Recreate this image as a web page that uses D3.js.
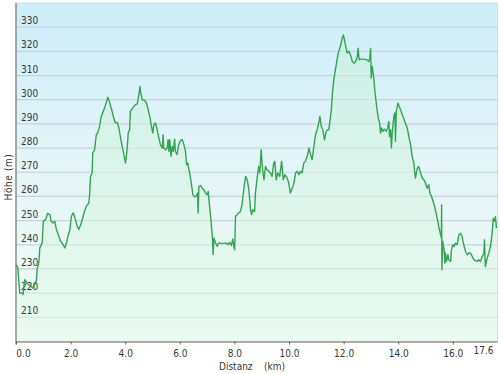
<!DOCTYPE html>
<html>
<head>
<meta charset="utf-8">
<script src="https://cdn.jsdelivr.net/npm/d3@7"></script>
<style>
html,body{margin:0;padding:0;background:#fff;}
svg{display:block;}
text{font-family:"DejaVu Sans Condensed","DejaVu Sans",Verdana,sans-serif;fill:#383838;}
</style>
</head>
<body>
<svg id="chart" width="500" height="374"></svg>
<script>
// distance (km)
const distKm = [0.00,0.07,0.10,0.14,0.23,0.26,0.29,0.32,0.41,0.53,0.63,0.69,0.75,0.78,0.84,0.87,0.96,1.00,1.08,1.16,1.24,1.29,1.36,1.42,1.48,1.57,1.63,1.73,1.79,1.85,1.90,1.97,2.03,2.10,2.18,2.24,2.30,2.39,2.46,2.51,2.58,2.67,2.70,2.73,2.79,2.81,2.88,2.94,3.00,3.06,3.12,3.22,3.30,3.36,3.42,3.50,3.58,3.64,3.71,3.77,3.83,3.89,3.95,4.01,
4.07,4.11,4.16,4.19,4.28,4.38,4.44,4.50,4.54,4.57,4.62,4.72,4.78,4.84,4.90,4.96,5.01,5.05,5.11,5.17,5.23,5.29,5.36,5.39,5.41,5.48,5.54,5.57,5.60,5.63,5.68,5.72,5.76,5.81,5.84,5.90,5.96,6.03,6.09,6.15,6.21,6.25,6.29,6.36,6.42,6.48,6.54,6.60,6.65,6.67,6.70,6.76,6.82,6.88,6.94,7.00,7.04,7.09,7.14,7.19,7.22,7.25,7.31,7.37,7.43,7.55,7.67,7.77,7.82,7.89,7.94,7.98,8.01,8.04,8.10,8.16,
8.22,8.28,8.35,8.41,8.47,8.53,8.59,8.63,8.67,8.74,8.77,8.84,8.89,8.93,8.98,9.02,9.08,9.14,9.20,9.26,9.32,9.38,9.44,9.48,9.53,9.59,9.66,9.73,9.79,9.85,9.93,9.99,10.05,10.12,10.18,10.24,10.30,10.36,10.42,10.48,10.54,10.60,10.67,10.73,10.79,10.85,10.91,10.97,11.03,11.09,11.13,11.18,11.24,11.30,11.36,11.42,11.46,11.49,11.55,11.59,11.64,11.70,11.77,11.82,11.88,11.95,11.99,12.03,12.08,12.13,12.19,12.25,12.32,12.38,12.44,12.50,12.53,12.57,12.62,12.74,12.86,12.92,
12.96,12.99,13.01,13.05,13.11,13.14,13.21,13.27,13.32,13.35,13.39,13.44,13.49,13.56,13.61,13.66,13.68,13.72,13.75,13.78,13.84,13.88,13.90,13.93,13.99,14.06,14.15,14.24,14.33,14.39,14.45,14.51,14.57,14.63,14.70,14.75,14.82,14.88,14.94,15.00,15.06,15.12,15.16,15.22,15.28,15.33,15.39,15.45,15.51,15.58,15.59,15.60,15.63,15.68,15.71,15.73,15.77,15.82,15.85,15.92,15.95,16.00,16.05,16.10,16.16,16.22,16.28,16.34,16.40,16.47,16.53,16.59,16.65,16.71,16.77,16.83,16.89,16.95,17.01,17.08,17.14,17.16,17.19,17.22,17.26,17.32,17.38,17.44,17.48,17.53,17.56,17.60];
// elevation (m)
const elevM = [231.8,230.4,225.6,220.0,220.0,219.4,223.0,225.6,224.0,223.0,222.0,223.5,225.6,230.4,233.0,238.7,240.8,249.7,250.4,253.0,252.5,249.7,249.0,249.7,246.3,243.5,241.5,240.0,238.7,240.8,243.5,246.0,251.8,253.2,250.4,247.7,246.3,249.0,251.8,253.9,256.0,257.3,261.4,268.3,269.7,278.0,279.3,285.5,286.5,289.0,293.0,295.9,298.6,301.0,299.3,296.0,292.4,290.4,290.6,288.3,284.2,280.7,277.3,273.8,
279.3,286.2,287.6,295.2,296.6,298.0,298.3,302.0,305.5,302.8,300.0,299.7,298.6,295.9,293.0,289.0,286.2,289.7,290.4,287.6,284.2,281.4,280.0,285.5,280.0,279.3,280.0,283.5,278.6,283.5,276.6,280.7,278.6,283.7,278.6,277.3,281.4,283.2,283.5,281.4,278.6,273.1,273.8,269.7,265.6,260.7,259.8,260.1,261.4,253.2,264.2,264.5,263.5,262.8,261.4,260.7,262.1,255.9,250.4,243.5,236.0,242.8,240.8,239.4,240.8,240.5,240.8,240.1,241.0,239.7,242.4,239.4,238.0,251.8,252.5,253.2,
253.8,256.6,263.5,268.3,266.9,262.8,254.5,252.5,254.5,253.8,261.4,268.3,272.4,269.7,279.3,272.4,266.9,272.4,271.0,270.4,269.7,268.3,273.8,274.5,266.9,269.7,268.3,274.5,266.9,269.0,267.6,265.5,261.4,263.5,265.5,269.7,270.4,269.0,270.4,269.7,273.8,274.5,276.6,280.0,277.2,275.2,280.7,285.5,287.6,290.3,293.1,289.0,287.6,283.4,286.9,287.6,287.6,290.3,295.8,302.7,308.2,312.4,317.2,320.0,322.0,325.5,326.8,324.8,322.0,319.3,320.0,318.6,315.8,315.1,315.8,317.9,321.3,316.5,316.8,316.8,316.5,315.8,
317.2,321.3,309.0,313.8,308.3,304.1,297.2,292.4,290.3,286.2,288.3,286.9,287.9,286.9,288.3,291.0,284.8,287.6,280.0,286.2,293.1,294.5,282.8,295.2,298.6,296.6,293.8,291.0,288.3,284.8,281.4,276.6,273.8,267.6,271.7,272.4,269.7,267.6,266.9,265.5,263.4,264.8,261.4,260.0,257.9,255.9,253.1,249.7,246.2,242.8,256.6,229.7,241.4,237.9,232.4,236.6,233.1,235.9,233.8,233.1,237.9,240.0,239.3,240.7,240.0,244.1,244.8,243.4,240.0,237.2,235.9,236.6,236.6,235.2,233.8,233.5,233.1,233.8,233.1,235.2,236.6,242.1,231.0,232.4,234.5,236.6,239.3,244.8,251.0,249.7,251.7,246.9];

const yTicks = [210,220,230,240,250,260,270,280,290,300,310,320,330];
const xTicks = [0,2,4,6,8,10,12,14,16];
const xTickLabels = ["0.0","2.0","4.0","6.0","8.0","10.0","12.0","14.0","16.0"];
const xEndLabel = "17.6";
const xTitle = "Distanz    (km)";
const yTitle = "Höhe (m)";

const data = distKm.map((d,i)=>({d:d, e:elevM[i]}));

const L=16, R=496.5, T=3, B=341.5;
const svg = d3.select("#chart");
const x = d3.scaleLinear().domain([0,17.6]).range([L,R]);
const y = d3.scaleLinear().domain([200,340]).range([B,T]);

const defs = svg.append("defs");
const bg = defs.append("linearGradient").attr("id","bg").attr("x1",0).attr("y1",0).attr("x2",0).attr("y2",1);
bg.append("stop").attr("offset","0%").attr("stop-color","#cdedfa");
bg.append("stop").attr("offset","50%").attr("stop-color","#e4f5f8");
bg.append("stop").attr("offset","100%").attr("stop-color","#f1fcf4");
const ag = defs.append("linearGradient").attr("id","ag").attr("x1",0).attr("y1",0).attr("x2",0).attr("y2",1);
ag.append("stop").attr("offset","0%").attr("stop-color","#c8f0d8").attr("stop-opacity",0.55);
ag.append("stop").attr("offset","100%").attr("stop-color","#e2f9ea").attr("stop-opacity",0.5);

svg.append("rect").attr("x",L).attr("y",T).attr("width",R-L+1).attr("height",B-T)
  .attr("fill","url(#bg)").attr("stroke","#dcdcdc").attr("stroke-width",1);

// gridlines
svg.append("g").selectAll("line").data(yTicks).join("line")
  .attr("x1",L).attr("x2",R+1).attr("y1",d=>y(d)).attr("y2",d=>y(d))
  .attr("stroke","#c6d2d9").attr("stroke-width",1.2);

// area
const area = d3.area().x(d=>x(d.d)).y0(B).y1(d=>y(d.e));
svg.append("path").datum(data).attr("d",area).attr("fill","url(#ag)");

// gridline labels
svg.append("g").selectAll("text").data(yTicks).join("text")
  .attr("x",21).attr("y",d=>y(d)-3).attr("font-size","10px").text(d=>d);

// line
const line = d3.line().x(d=>x(d.d)).y(d=>y(d.e));
svg.append("path").datum(data).attr("d",line).attr("fill","none")
  .attr("stroke","#32a452").attr("stroke-width",1.4).attr("stroke-linejoin","round");

// x axis
const xAxis = d3.axisBottom(x).tickValues(xTicks).tickSize(3).tickFormat((d,i)=>xTickLabels[i]);
const gx = svg.append("g").attr("transform",`translate(0,${B})`).call(xAxis);
gx.select(".domain").attr("stroke","#666").attr("d",`M${L},0.5H${R+1}`);
gx.selectAll(".tick line").attr("stroke","#666");
gx.selectAll(".tick text").attr("font-size","10px").attr("fill","#383838").attr("dy","0.95em").attr("font-family",null);
gx.selectAll(".tick text").filter(d=>d===0).attr("dx",7);
gx.append("text").attr("x",x(17.6)-3).attr("y",3).attr("dy","0.95em").attr("text-anchor","end")
  .attr("font-size","10px").attr("fill","#383838").text(xEndLabel);

// y axis line
svg.append("line").attr("x1",L).attr("x2",L).attr("y1",T).attr("y2",B+3).attr("stroke","#666").attr("stroke-width",1);

// titles
svg.append("text").attr("x",252).attr("y",370).attr("text-anchor","middle").attr("font-size","10px")
  .attr("xml:space","preserve").style("white-space","pre").text(xTitle);
svg.append("text").attr("transform","translate(12,177) rotate(-90)").attr("text-anchor","middle")
  .attr("font-size","10px").attr("letter-spacing","0.6px").text(yTitle);
</script>
</body>
</html>
